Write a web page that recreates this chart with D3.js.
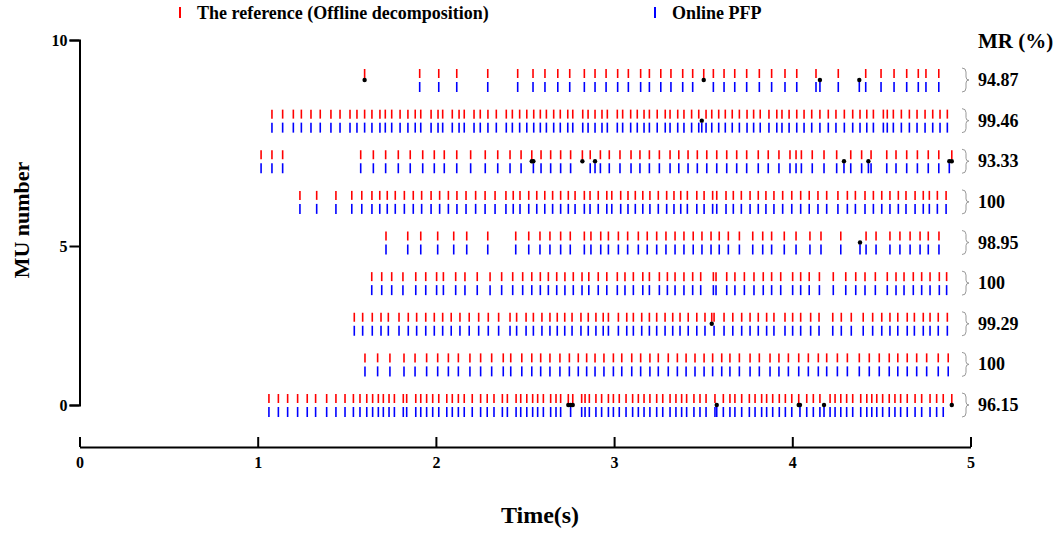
<!DOCTYPE html>
<html><head><meta charset="utf-8">
<script src="https://cdn.jsdelivr.net/npm/d3@7"></script>
<style>
body{margin:0;background:#fff}
text{font-family:"Liberation Serif","Times New Roman",serif;font-weight:bold;fill:#000}
</style></head>
<body><svg id="chart" width="1059" height="536"></svg>
<script>
// ---------- data ----------
const muNumbers = [1,2,3,4,5,6,7,8,9];
const matchRates = ["96.15","100","99.29","100","98.95","100","93.33","99.46","94.87"];
const xTickValues = [0,1,2,3,4,5];
const yTickValues = [0,5,10];
const legendLabels = ["The reference (Offline decomposition)","Online PFP"];

// reference (offline) spike times, seconds
const refSpikes1 = [1.063,1.116,1.168,1.224,1.278,1.325,1.387,1.439,1.490,1.537,1.574,1.612,1.645,1.677,1.705,1.737,1.767,1.817,1.836,1.887,1.915,1.948,1.982,2.016,2.061,2.092,2.126,2.159,2.204,2.251,2.288,2.326,2.373,2.401,2.450,2.476,2.510,2.543,2.571,2.603,2.644,2.674,2.700,2.743,2.768,2.818,2.837,2.861,2.898,2.930,2.968,2.996,3.029,3.067,3.104,3.136,3.168,3.201,3.239,3.273,3.314,3.347,3.379,3.407,3.448,3.482,3.516,3.566,3.613,3.650,3.678,3.716,3.759,3.791,3.828,3.856,3.890,3.927,3.961,3.997,4.036,4.081,4.118,4.155,4.212,4.240,4.272,4.305,4.339,4.384,4.418,4.446,4.474,4.507,4.544,4.576,4.608,4.645,4.689,4.726,4.773,4.810,4.847,4.895];
const refSpikes2 = [1.602,1.673,1.742,1.821,1.883,1.948,2.010,2.070,2.126,2.191,2.251,2.313,2.378,2.420,2.482,2.538,2.588,2.640,2.696,2.749,2.799,2.846,2.893,2.943,2.996,3.043,3.099,3.149,3.201,3.248,3.304,3.355,3.404,3.454,3.505,3.553,3.604,3.650,3.703,3.763,3.815,3.875,3.925,3.978,4.036,4.090,4.146,4.193,4.253,4.309,4.376,4.432,4.488,4.544,4.592,4.645,4.698,4.754,4.819,4.875];
const refSpikes3 = [1.542,1.589,1.643,1.692,1.733,1.793,1.845,1.892,1.943,1.991,2.038,2.086,2.135,2.187,2.240,2.294,2.352,2.416,2.453,2.506,2.547,2.595,2.640,2.681,2.723,2.764,2.814,2.855,2.898,2.939,2.968,3.024,3.071,3.108,3.155,3.198,3.239,3.286,3.329,3.370,3.416,3.464,3.510,3.548,3.561,3.617,3.666,3.716,3.763,3.809,3.856,3.897,3.959,4.002,4.047,4.103,4.150,4.227,4.275,4.331,4.398,4.451,4.502,4.548,4.592,4.645,4.685,4.735,4.773,4.819,4.870];
const refSpikes4 = [1.640,1.696,1.752,1.815,1.887,1.943,2.004,2.042,2.111,2.163,2.232,2.304,2.369,2.431,2.487,2.538,2.586,2.631,2.678,2.724,2.771,2.820,2.858,2.911,2.959,3.018,3.061,3.108,3.161,3.198,3.254,3.299,3.342,3.392,3.441,3.486,3.557,3.572,3.632,3.678,3.731,3.785,3.837,3.884,3.935,4.002,4.047,4.095,4.152,4.230,4.300,4.356,4.408,4.466,4.533,4.582,4.627,4.679,4.726,4.773,4.825,4.866];
const refSpikes5 = [1.720,1.842,1.915,2.010,2.100,2.173,2.291,2.448,2.521,2.584,2.640,2.700,2.754,2.833,2.870,2.925,2.968,3.024,3.076,3.136,3.186,3.239,3.291,3.342,3.392,3.444,3.493,3.544,3.590,3.641,3.703,3.778,3.834,3.884,3.955,4.021,4.099,4.161,4.272,4.414,4.470,4.548,4.604,4.661,4.717,4.763,4.823];
const refSpikes6 = [1.237,1.331,1.439,1.528,1.584,1.641,1.685,1.727,1.772,1.823,1.873,1.920,1.973,2.021,2.070,2.118,2.169,2.223,2.276,2.332,2.393,2.434,2.472,2.521,2.566,2.611,2.655,2.700,2.743,2.781,2.833,2.865,2.911,2.959,2.987,3.037,3.078,3.119,3.161,3.201,3.248,3.295,3.336,3.374,3.411,3.464,3.505,3.553,3.576,3.628,3.669,3.714,3.763,3.809,3.852,3.897,3.946,3.997,4.047,4.095,4.144,4.193,4.256,4.309,4.354,4.408,4.455,4.502,4.548,4.595,4.638,4.689,4.735,4.769,4.814,4.863];
const refSpikes7 = [1.019,1.080,1.140,1.578,1.649,1.718,1.789,1.856,1.926,1.991,2.047,2.117,2.195,2.277,2.347,2.416,2.478,2.538,2.590,2.644,2.700,2.756,2.822,2.866,2.923,2.973,3.033,3.095,3.145,3.198,3.254,3.314,3.363,3.415,3.467,3.520,3.576,3.632,3.688,3.744,3.809,3.865,3.925,3.987,4.021,4.051,4.112,4.178,4.249,4.328,4.389,4.442,4.530,4.582,4.642,4.702,4.763,4.822,4.895];
const refSpikes8 = [1.080,1.140,1.200,1.245,1.299,1.351,1.411,1.462,1.518,1.557,1.600,1.641,1.686,1.716,1.752,1.799,1.843,1.884,1.915,1.973,2.012,2.038,2.092,2.130,2.159,2.214,2.249,2.292,2.339,2.395,2.429,2.470,2.510,2.549,2.586,2.620,2.661,2.698,2.740,2.768,2.824,2.854,2.893,2.932,2.962,3.018,3.048,3.093,3.130,3.168,3.198,3.242,3.287,3.314,3.357,3.392,3.435,3.475,3.516,3.548,3.587,3.624,3.663,3.703,3.746,3.783,3.820,3.869,3.913,3.942,3.982,4.025,4.066,4.109,4.155,4.202,4.245,4.292,4.339,4.380,4.418,4.455,4.511,4.533,4.567,4.612,4.657,4.700,4.745,4.788,4.829,4.870];
const refSpikes9 = [1.600,1.909,2.016,2.117,2.291,2.459,2.545,2.612,2.684,2.751,2.833,2.893,2.955,3.020,3.080,3.149,3.198,3.262,3.319,3.385,3.441,3.503,3.557,3.617,3.677,3.744,3.815,3.884,3.959,4.025,4.133,4.258,4.412,4.498,4.571,4.642,4.707,4.750,4.822];

// reference spikes missed by the online decomposition (marked with dots)
const missed1 = [2.743,2.768,4.036,4.895];
const missed2 = [];
const missed3 = [3.548];
const missed4 = [];
const missed5 = [];
const missed6 = [];
const missed7 = [2.538,2.822,4.895];
const missed8 = [];
const missed9 = [1.600,3.503];

// online spikes not present in the reference (marked with dots)
const extra1 = [2.756,3.576,4.043,4.178];
const extra2 = [];
const extra3 = [];
const extra4 = [];
const extra5 = [4.380];
const extra6 = [];
const extra7 = [2.547,2.893,4.290,4.427,4.881];
const extra8 = [3.492];
const extra9 = [4.155,4.376];

const refAll = [refSpikes1,refSpikes2,refSpikes3,refSpikes4,refSpikes5,refSpikes6,refSpikes7,refSpikes8,refSpikes9];
const missedAll = [missed1,missed2,missed3,missed4,missed5,missed6,missed7,missed8,missed9];
const extraAll = [extra1,extra2,extra3,extra4,extra5,extra6,extra7,extra8,extra9];

// ---------- drawing ----------
const svg = d3.select("#chart");
const RED = "#ff0000", BLUE = "#0000ff";

const x = d3.scaleLinear().domain([0,5]).range([79.5,970.5]);
const row = d3.scaleLinear().domain([1,9]).range([405,80]);
const yAxisScale = d3.scaleLinear().domain([0,5,10]).range([405,246,40]);

// rows
muNumbers.forEach((mu,i)=>{
  const y0 = row(mu);
  const ref = refAll[i];
  const missed = new Set(missedAll[i]);
  const online = ref.filter(t=>!missed.has(t)).concat(extraAll[i]).sort((a,b)=>a-b);
  const g = svg.append("g");
  g.selectAll("line.r").data(ref).enter().append("line")
    .attr("x1",d=>x(d)).attr("x2",d=>x(d))
    .attr("y1",y0-11).attr("y2",y0-2)
    .attr("stroke",RED).attr("stroke-width",1.6);
  g.selectAll("line.b").data(online).enter().append("line")
    .attr("x1",d=>x(d)).attr("x2",d=>x(d))
    .attr("y1",y0+2).attr("y2",y0+12)
    .attr("stroke",BLUE).attr("stroke-width",1.6);
  const dots = missedAll[i].concat(extraAll[i]);
  g.selectAll("circle").data(dots).enter().append("circle")
    .attr("cx",d=>x(d)).attr("cy",y0).attr("r",2.2).attr("fill","#000");
  // brace
  const bx = 962, top = y0-12, bot = y0+12;
  g.append("path")
    .attr("d",`M${bx},${top} Q${bx+4},${top} ${bx+4},${top+4} L${bx+4},${y0-3} Q${bx+4},${y0} ${bx+7},${y0} Q${bx+4},${y0} ${bx+4},${y0+3} L${bx+4},${bot-4} Q${bx+4},${bot} ${bx},${bot}`)
    .attr("fill","none").attr("stroke","#999").attr("stroke-width",1);
  g.append("text").attr("x",978).attr("y",y0+6).attr("font-size",18).text(matchRates[i]);
});

svg.append("text").attr("x",978).attr("y",48).attr("font-size",21).text("MR (%)");

// x axis
const xAxis = svg.append("g").attr("transform","translate(0,447)")
  .call(d3.axisBottom(x).tickValues(xTickValues).tickSize(-10).tickSizeOuter(0).tickPadding(10).tickFormat(d3.format("d")));
xAxis.selectAll("path,line").attr("stroke","#000").attr("stroke-width",2);
xAxis.selectAll("text").attr("font-size",16).style("font-family",'"Liberation Serif",serif').style("font-weight","bold");

// y axis
const yAxis = svg.append("g").attr("transform","translate(79.5,0)")
  .call(d3.axisLeft(yAxisScale).tickValues(yTickValues).tickSize(10).tickSizeOuter(10).tickPadding(2).tickFormat(d3.format("d")));
yAxis.selectAll("path,line").attr("stroke","#000").attr("stroke-width",2);
yAxis.selectAll("text").attr("font-size",16).style("font-family",'"Liberation Serif",serif').style("font-weight","bold");

// axis titles
svg.append("text").attr("x",540).attr("y",523).attr("text-anchor","middle").attr("font-size",24).text("Time(s)");
svg.append("text").attr("transform","translate(29,220) rotate(-90)").attr("text-anchor","middle").attr("font-size",22).text("MU number");

// legend
const legendX = [180,655];
const legendColors = [RED,BLUE];
legendLabels.forEach((lab,i)=>{
  svg.append("line").attr("x1",legendX[i]).attr("x2",legendX[i]).attr("y1",7).attr("y2",18)
    .attr("stroke",legendColors[i]).attr("stroke-width",2);
  svg.append("text").attr("x",legendX[i]+17).attr("y",19).attr("font-size",18).text(lab);
});
</script></body></html>
